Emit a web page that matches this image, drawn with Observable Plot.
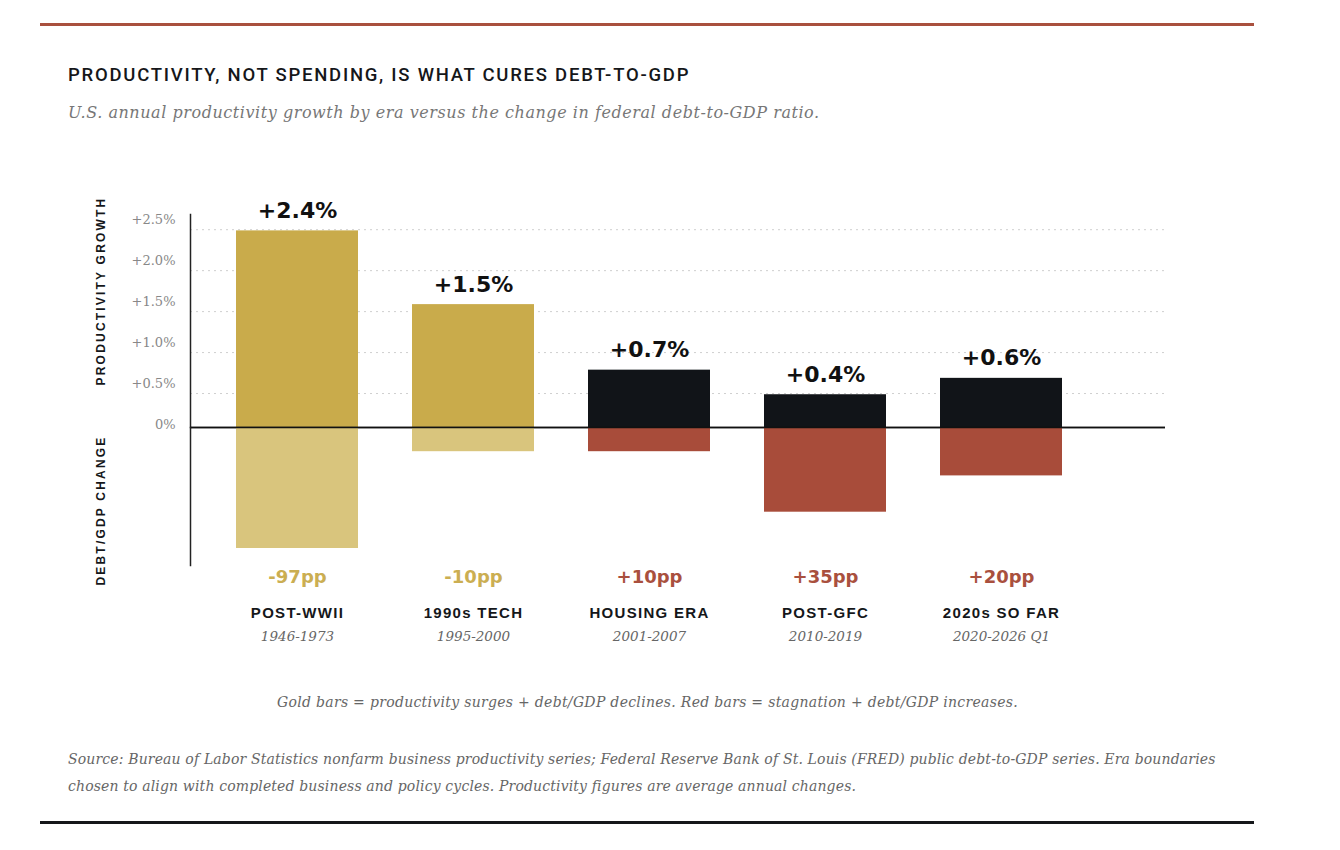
<!DOCTYPE html>
<html><head><meta charset="utf-8">
<script src="https://cdn.jsdelivr.net/npm/d3@7"></script>
<script src="https://cdn.jsdelivr.net/npm/@observablehq/plot@0.6"></script>
<style>
body{margin:0;background:#fff;}
#wrap{position:relative;width:1340px;height:850px;overflow:hidden;}
.abs{position:absolute;}
</style></head>
<body><div id="wrap">
<div class="abs" style="left:40px;top:23px;width:1214px;height:3px;background:#a9503e"></div>
<div class="abs" style="left:68px;top:64px;font-family:Roboto;font-weight:500;font-size:18.5px;letter-spacing:1.75px;color:#15171a;white-space:nowrap">PRODUCTIVITY, NOT SPENDING, IS WHAT CURES DEBT-TO-GDP</div>
<div class="abs" style="left:68px;top:103px;font-family:'DejaVu Serif';font-style:italic;font-size:16px;letter-spacing:0.55px;color:#777;white-space:nowrap">U.S. annual productivity growth by era versus the change in federal debt-to-GDP ratio.</div>
<div class="abs" id="topChart" style="left:0;top:180px"></div>
<div class="abs" id="bottomChart" style="left:0;top:425px"></div>
<div class="abs" style="left:0;top:694px;width:1295px;text-align:center;font-family:'DejaVu Serif';font-style:italic;font-size:14px;letter-spacing:0.3px;color:#666;white-space:nowrap">Gold bars = productivity surges + debt/GDP declines. Red bars = stagnation + debt/GDP increases.</div>
<div class="abs" style="left:68px;top:746px;width:1180px;font-family:'DejaVu Serif';font-style:italic;font-size:14px;letter-spacing:0.15px;line-height:27px;color:#666">Source: Bureau of Labor Statistics nonfarm business productivity series; Federal Reserve Bank of St. Louis (FRED) public debt-to-GDP series. Era boundaries chosen to align with completed business and policy cycles. Productivity figures are average annual changes.</div>
<div class="abs" style="left:40px;top:821px;width:1214px;height:3px;background:#15171a"></div>
</div>
<script>
const eras = ["POST-WWII", "1990s TECH", "HOUSING ERA", "POST-GFC", "2020s SO FAR"];
const periods = ["1946-1973", "1995-2000", "2001-2007", "2010-2019", "2020-2026 Q1"];
const productivity = [2.4, 1.5, 0.7, 0.4, 0.6];
const debtChange = [-97, -10, 10, 35, 20];
const productivityTicks = [0, 0.5, 1, 1.5, 2, 2.5];

const gold = "#c9ab4b", goldLight = "#d9c57d", dark = "#111418", red = "#a84c3a";
const goldText = "#cbae52", redText = "#a9503e";

const data = eras.map((era, i) => ({era, period: periods[i], prod: productivity[i], debt: debtChange[i]}));

const xScale = {domain: eras, range: [209, 1089], paddingInner: 0.307, paddingOuter: 0.1535, axis: null};

const topPlot = Plot.plot({
  width: 1340, height: 250,
  marginTop: 34, marginBottom: 3, marginLeft: 190, marginRight: 175,
  style: {background: "transparent", fontFamily: "DejaVu Serif", fontSize: "13px", overflow: "visible"},
  x: xScale,
  y: {domain: [0, 2.6]},
  marks: [
    Plot.ruleY(productivityTicks.filter(t => t > 0), {stroke: "#cfcfcf", strokeDasharray: "2,4", dy: 7}),
    Plot.barY(data, {x: "era", y: "prod", fill: d => d.debt < 0 ? gold : dark}),
    Plot.ruleY([0], {stroke: "#111", strokeWidth: 1.5}),
    Plot.frame({anchor: "left", stroke: "#222", strokeWidth: 1.5}),
    Plot.axisY({ticks: productivityTicks, tickSize: 0, tickPadding: 15, dy: -3, color: "#888",
      tickFormat: d => d === 0 ? "0%" : "+" + d.toFixed(1) + "%", label: null}),
    Plot.text(data, {x: "era", y: "prod", text: d => "+" + d.prod.toFixed(1) + "%", dy: -20,
      fontFamily: "DejaVu Sans", fontWeight: "bold", fontSize: 22, fill: "#111"}),
    Plot.text(["PRODUCTIVITY GROWTH"], {text: d => d, frameAnchor: "left", textAnchor: "middle", rotate: -90, dx: -89, dy: -30,
      fontFamily: "Liberation Sans", fontWeight: "bold", fontSize: 12, fill: "#15171a"})
  ]
});
document.getElementById("topChart").append(topPlot);

const bottomPlot = Plot.plot({
  width: 1340, height: 228,
  marginTop: 2, marginBottom: 88, marginLeft: 190, marginRight: 175,
  style: {background: "transparent", fontFamily: "DejaVu Serif", fontSize: "13px", overflow: "visible"},
  x: xScale,
  y: {domain: [0, 50], range: [2, 123], clamp: true, axis: null},
  marks: [
    Plot.barY(data, {x: "era", y1: 0, y2: d => Math.abs(d.debt), fill: d => d.debt < 0 ? goldLight : red}),
    Plot.ruleY([0], {stroke: "#111", strokeWidth: 1.5}),
    Plot.frame({anchor: "left", stroke: "#222", strokeWidth: 1.5}),
    Plot.text(data, {x: "era", frameAnchor: "bottom", dy: 17, text: d => (d.debt > 0 ? "+" : "") + d.debt + "pp",
      fill: d => d.debt < 0 ? goldText : redText, fontFamily: "DejaVu Sans", fontWeight: "bold", fontSize: 18}),
    Plot.text(data, {x: "era", frameAnchor: "bottom", dy: 52, text: "era",
      fill: "#15171a", fontFamily: "Liberation Sans", fontWeight: "bold", fontSize: 15}),
    Plot.text(data, {x: "era", frameAnchor: "bottom", dy: 75, text: "period",
      fill: "#666", fontFamily: "DejaVu Serif", fontStyle: "italic", fontSize: 13.5}),
    Plot.text(["DEBT/GDP CHANGE"], {text: d => d, frameAnchor: "left", textAnchor: "middle", rotate: -90, dx: -89, dy: 14,
      fontFamily: "Liberation Sans", fontWeight: "bold", fontSize: 12, fill: "#15171a"})
  ]
});
document.getElementById("bottomChart").append(bottomPlot);

d3.selectAll("svg text").filter(function() {
  return this.textContent === "PRODUCTIVITY GROWTH" || this.textContent === "DEBT/GDP CHANGE";
}).style("letter-spacing", "2.2px");
d3.selectAll("svg text").filter(function() {
  return eras.includes(this.textContent);
}).style("letter-spacing", "1.3px");
</script>
</body></html>
